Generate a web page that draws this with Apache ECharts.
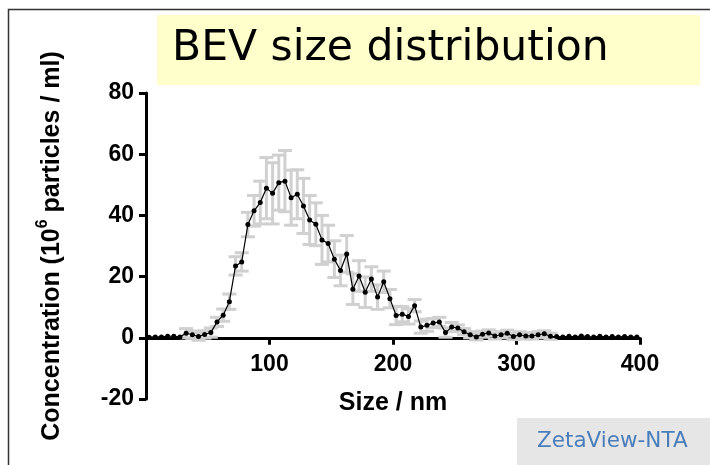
<!DOCTYPE html>
<html>
<head>
<meta charset="utf-8">
<script src="https://cdn.jsdelivr.net/npm/echarts@6/dist/echarts.min.js"></script>
<style>
  html, body { margin: 0; padding: 0; background: #fff; }
  #chart { width: 710px; height: 465px; }
</style>
</head>
<body>
<div id="chart"></div>
<script>
// particle size bins (nm)
const sizes = [
  2.5, 7.5, 12.5, 17.5, 22.5, 27.5, 32.5, 37.5, 42.5, 47.5,
  52.5, 57.5, 62.5, 67.5, 72.5, 77.5, 82.5, 87.5, 92.5, 97.5,
  102.5, 107.5, 112.5, 117.5, 122.5, 127.5, 132.5, 137.5, 142.5, 147.5,
  152.5, 157.5, 162.5, 167.5, 172.5, 177.5, 182.5, 187.5, 192.5, 197.5,
  202.5, 207.5, 212.5, 217.5, 222.5, 227.5, 232.5, 237.5, 242.5, 247.5,
  252.5, 257.5, 262.5, 267.5, 272.5, 277.5, 282.5, 287.5, 292.5, 297.5,
  302.5, 307.5, 312.5, 317.5, 322.5, 327.5, 332.5, 337.5, 342.5, 347.5,
  352.5, 357.5, 362.5, 367.5, 372.5, 377.5, 382.5, 387.5, 392.5, 397.5
]

// mean concentration (10^6 particles / ml)
const concentration = [
  0.2, 0.3, 0.3, 0.5, 0.5, 0.3, 1.5, 1.0, 0.4, 1.1,
  1.7, 5.2, 7.4, 11.8, 23.5, 24.8, 37.0, 41.5, 44.2, 48.9,
  47.2, 50.7, 51.2, 45.8, 46.9, 43.1, 38.5, 37.1, 32.0, 30.8,
  25.7, 22.0, 27.4, 15.9, 20.2, 14.9, 19.2, 13.3, 18.3, 12.8,
  7.3, 7.7, 7.0, 10.5, 3.5, 4.1, 4.8, 5.2, 1.7, 3.5,
  3.2, 2.0, 1.0, 0.3, 1.2, 1.6, 0.6, 1.0, 1.5, 0.4,
  1.0, 0.6, 0.6, 1.0, 1.3, 0.5, 0.4, 0.3, 0.5, 0.3,
  0.6, 0.4, 0.3, 0.5, 0.3, 0.4, 0.3, 0.4, 0.3, 0.3
]

// error (+/-)
const errors = [
  0, 0, 0, 0, 0, 0, 1.5, 1.2, 1.2, 1.2,
  1.5, 1.5, 2, 2.5, 3, 3, 4, 5, 7, 10,
  10, 9, 10, 9, 8, 9, 8, 7, 8, 6,
  6, 5, 6, 5, 5, 5, 4, 4, 3.5, 3,
  3, 2.5, 2.5, 2, 2, 2, 1.5, 1.5, 1.5, 1.5,
  1, 1, 1, 1, 1, 1, 1, 1, 1, 1,
  1, 1, 1, 1, 1, 1, 0, 0, 0, 0,
  0, 0, 0, 0, 0, 0, 0, 0, 0, 0
]

const yTicks = [-20, 0, 20, 40, 60, 80]
const xTicks = [0, 100, 200, 300, 400]

const lineData = sizes.map((s, i) => [s, concentration[i]])
const errData = sizes
  .map((s, i) => [s, concentration[i] - errors[i], concentration[i] + errors[i]])
  .filter((d, i) => errors[i] > 0)

const chart = echarts.init(document.getElementById('chart'))

const axisFont = {
  color: '#000',
  fontFamily: '"Liberation Sans", Arial, sans-serif',
  fontWeight: 'bold',
  fontSize: 23
}

// grid: plot spans y 93..399, so the zero line sits 20% above the bottom
const gridH = 465 - 93 - 66
const zeroShift = -gridH * (0 - yTicks[0]) / (yTicks[yTicks.length - 1] - yTicks[0])

chart.setOption({
  animation: false,
  grid: { left: 146, right: 70, top: 93, bottom: 66, outerBoundsMode: 'none' },
  xAxis: {
    type: 'value',
    min: xTicks[0],
    max: xTicks[xTicks.length - 1],
    interval: 100,
    offset: zeroShift,
    axisLine: { onZero: false, lineStyle: { color: '#000', width: 3 } },
    axisTick: { length: 7, lineStyle: { color: '#000', width: 3 } },
    splitLine: { show: false },
    axisLabel: Object.assign({ margin: 15, formatter: (v) => (v === 0 ? '' : v) }, axisFont),
    name: 'Size / nm',
    nameLocation: 'middle',
    nameGap: 53,
    nameTextStyle: Object.assign({}, axisFont, { fontSize: 25 })
  },
  yAxis: {
    type: 'value',
    min: yTicks[0],
    max: yTicks[yTicks.length - 1],
    interval: 20,
    axisLine: { show: true, lineStyle: { color: '#000', width: 3 } },
    axisTick: { show: true, length: 7, lineStyle: { color: '#000', width: 3 } },
    splitLine: { show: false },
    axisLabel: Object.assign({ margin: 12 }, axisFont),
    name: '{a|Concentration (10}{s|6}{a| particles / ml)}',
    nameLocation: 'middle',
    nameRotate: 90,
    nameGap: 81,
    nameTextStyle: {
      rich: {
        a: Object.assign({}, axisFont, { fontSize: 25, lineHeight: 30, verticalAlign: 'bottom' }),
        s: Object.assign({}, axisFont, { fontSize: 16, lineHeight: 30, verticalAlign: 'top' })
      }
    }
  },
  series: [
    {
      type: 'custom',
      z: 1,
      data: errData,
      renderItem: (params, api) => {
        const x = api.value(0)
        const lo = api.coord([x, api.value(1)])
        const hi = api.coord([x, api.value(2)])
        const w = 7
        const style = { stroke: '#d0d0d0', lineWidth: 3 }
        return {
          type: 'group',
          children: [
            { type: 'line', shape: { x1: lo[0], y1: lo[1], x2: hi[0], y2: hi[1] }, style },
            { type: 'line', shape: { x1: lo[0] - w, y1: lo[1], x2: lo[0] + w, y2: lo[1] }, style },
            { type: 'line', shape: { x1: hi[0] - w, y1: hi[1], x2: hi[0] + w, y2: hi[1] }, style }
          ]
        }
      }
    },
    {
      type: 'line',
      z: 3,
      data: lineData,
      symbol: 'circle',
      symbolSize: 5,
      itemStyle: { color: '#000' },
      lineStyle: { color: '#000', width: 1.2 }
    }
  ],
  graphic: [
    {
      type: 'rect',
      left: 6, top: 7,
      shape: { width: 720, height: 480 },
      style: { fill: 'none', stroke: '#333', lineWidth: 1.5 },
      z: 0
    },
    {
      type: 'rect',
      left: 157, top: 15,
      shape: { width: 543, height: 70 },
      style: { fill: '#ffffcc' },
      z: 0
    },
    {
      type: 'text',
      left: 172, top: 27,
      style: {
        text: 'BEV size distribution',
        fill: '#000',
        fontFamily: '"DejaVu Sans", sans-serif',
        fontSize: 42.5
      },
      z: 5
    },
    {
      type: 'rect',
      left: 517, top: 418,
      shape: { width: 200, height: 50 },
      style: { fill: '#e6e6e6' },
      z: 0
    },
    {
      type: 'text',
      left: 537, top: 430,
      style: {
        text: 'ZetaView-NTA',
        fill: '#4a7ebb',
        fontFamily: '"DejaVu Sans", sans-serif',
        fontSize: 21.5
      },
      z: 5
    }
  ]
})
</script>
</body>
</html>
